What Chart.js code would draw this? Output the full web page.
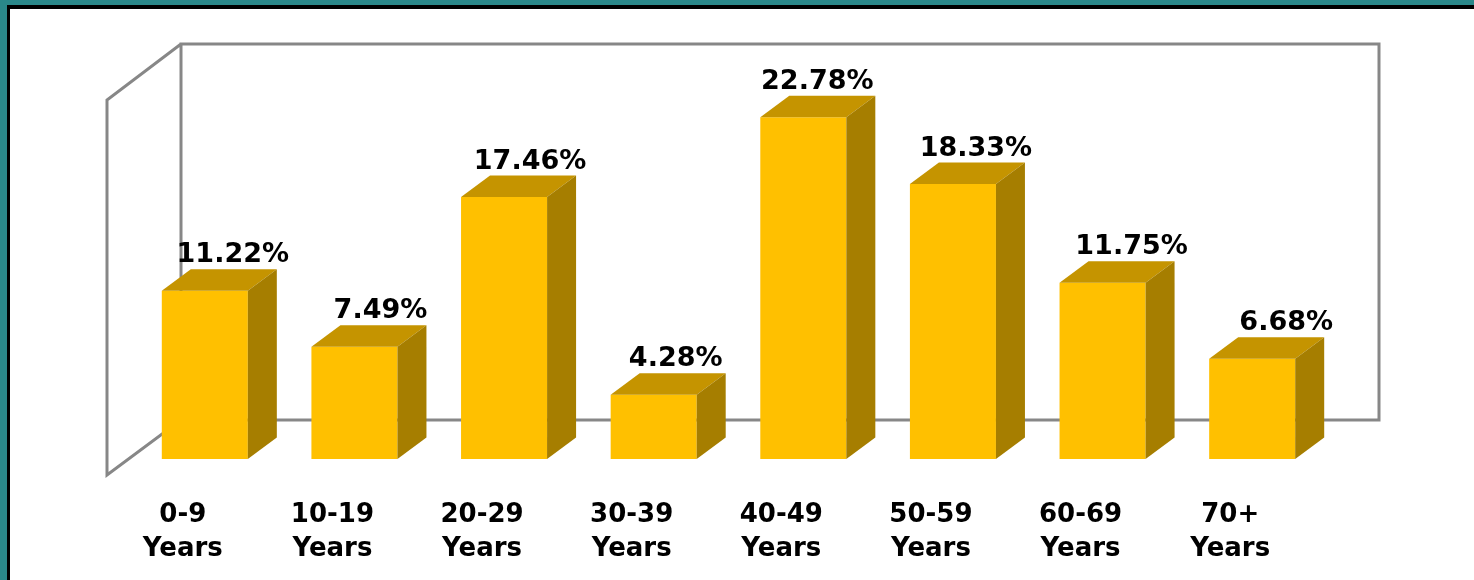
<!DOCTYPE html>
<html>
<head>
<meta charset="utf-8">
<script src="https://cdn.jsdelivr.net/npm/chart.js@4/dist/chart.umd.min.js"></script>
<style>
    html, body { margin: 0; padding: 0; background: #fff; }
    #wrap { position: relative; width: 1474px; height: 580px; overflow: hidden; background: #fff; }
    .edge { position: absolute; }
    #tealTop { left: 0; top: 0; width: 1474px; height: 5px; background: #2a888a; }
    #tealLeft { left: 0; top: 0; width: 7px; height: 580px; background: #2a888a; }
    #blackTop { left: 7px; top: 5px; width: 1467px; height: 4px; background: #000; }
    #blackLeft { left: 7px; top: 5px; width: 3px; height: 575px; background: #000; }
    canvas { position: absolute; left: 0; top: 0; }
</style>
</head>
<body>
<div id="wrap">
    <canvas id="chartAges" width="1474" height="580"></canvas>
    <div class="edge" id="tealTop"></div>
    <div class="edge" id="tealLeft"></div>
    <div class="edge" id="blackTop"></div>
    <div class="edge" id="blackLeft"></div>
</div>
<script>
    var ageGroups = [['0-9', 'Years'], ['10-19', 'Years'], ['20-29', 'Years'], ['30-39', 'Years'],
                     ['40-49', 'Years'], ['50-59', 'Years'], ['60-69', 'Years'], ['70+', 'Years']];
    var sharePct = [11.22, 7.49, 17.46, 4.28, 22.78, 18.33, 11.75, 6.68];
    var yMax = 25;
    // small horizontal nudges of the value labels (px), as placed in the original
    var labelNudge = [2, 0, 0, -4, -12, -3, 3, 8];

    var FONT = 'DejaVu Sans';
    var DEPTH_X = 29, DEPTH_Y = 21.5;

    // 3D frame (back wall + left wall) behind the bars, faces + labels on top
    var framePlugin = {
        id: 'frame3d',
        beforeDatasetsDraw: function(chart) {
            var ctx = chart.ctx;
            var y0 = chart.scales.y.getPixelForValue(0);
            var top = chart.chartArea.top;
            var backL = chart.chartArea.left + 51, backR = chart.chartArea.right + 52;
            var backT = top - 40, backB = y0 - 39;
            var frontL = backL - 74, frontT = backT + 56, frontB = y0 + 16;
            ctx.save();
            ctx.strokeStyle = '#878787';
            ctx.lineWidth = 3;
            ctx.beginPath();
            ctx.moveTo(backL, backB);
            ctx.lineTo(backR, backB);
            ctx.lineTo(backR, backT);
            ctx.lineTo(backL, backT);
            ctx.lineTo(backL, backB);
            ctx.lineTo(frontL, frontB);
            ctx.lineTo(frontL, frontT);
            ctx.lineTo(backL, backT);
            ctx.stroke();
            ctx.restore();
        },
        afterDatasetsDraw: function(chart) {
            var ctx = chart.ctx;
            var meta = chart.getDatasetMeta(0);
            ctx.save();
            meta.data.forEach(function(bar, i) {
                var l = bar.x - bar.width / 2, r = bar.x + bar.width / 2;
                var t = bar.y, b = bar.base;
                // top face
                ctx.fillStyle = '#c59400';
                ctx.beginPath();
                ctx.moveTo(l, t);
                ctx.lineTo(l + DEPTH_X, t - DEPTH_Y);
                ctx.lineTo(r + DEPTH_X, t - DEPTH_Y);
                ctx.lineTo(r, t);
                ctx.closePath();
                ctx.fill();
                // side face
                ctx.fillStyle = '#a67e00';
                ctx.beginPath();
                ctx.moveTo(r, t);
                ctx.lineTo(r + DEPTH_X, t - DEPTH_Y);
                ctx.lineTo(r + DEPTH_X, b - DEPTH_Y);
                ctx.lineTo(r, b);
                ctx.closePath();
                ctx.fill();
                // value label
                ctx.fillStyle = '#000';
                ctx.font = 'bold 27px "' + FONT + '"';
                ctx.textAlign = 'center';
                ctx.textBaseline = 'alphabetic';
                ctx.fillText(sharePct[i].toFixed(2) + '%', bar.x + 26 + labelNudge[i], t - DEPTH_Y - 7);
            });
            ctx.restore();
        }
    };

    new Chart(document.getElementById('chartAges'), {
        type: 'bar',
        data: {
            labels: ageGroups,
            datasets: [{
                data: sharePct,
                backgroundColor: '#ffc000',
                borderWidth: 0,
                categoryPercentage: 1,
                barPercentage: 0.575
            }]
        },
        options: {
            responsive: false,
            animation: false,
            events: [],
            layout: { padding: { left: 130, right: 147, top: 84, bottom: 0 } },
            plugins: { legend: { display: false }, tooltip: { enabled: false } },
            scales: {
                x: {
                    grid: { display: false, drawTicks: false },
                    border: { display: false },
                    afterFit: function(axis) { axis.height = 121; },
                    ticks: {
                        color: '#000',
                        font: { family: FONT, size: 26, weight: 'bold', lineHeight: 1.31 },
                        padding: 39,
                        labelOffset: -22,
                        maxRotation: 0,
                        autoSkip: false
                    }
                },
                y: {
                    display: false,
                    min: 0,
                    max: yMax
                }
            }
        },
        plugins: [framePlugin]
    });
</script>
</body>
</html>
